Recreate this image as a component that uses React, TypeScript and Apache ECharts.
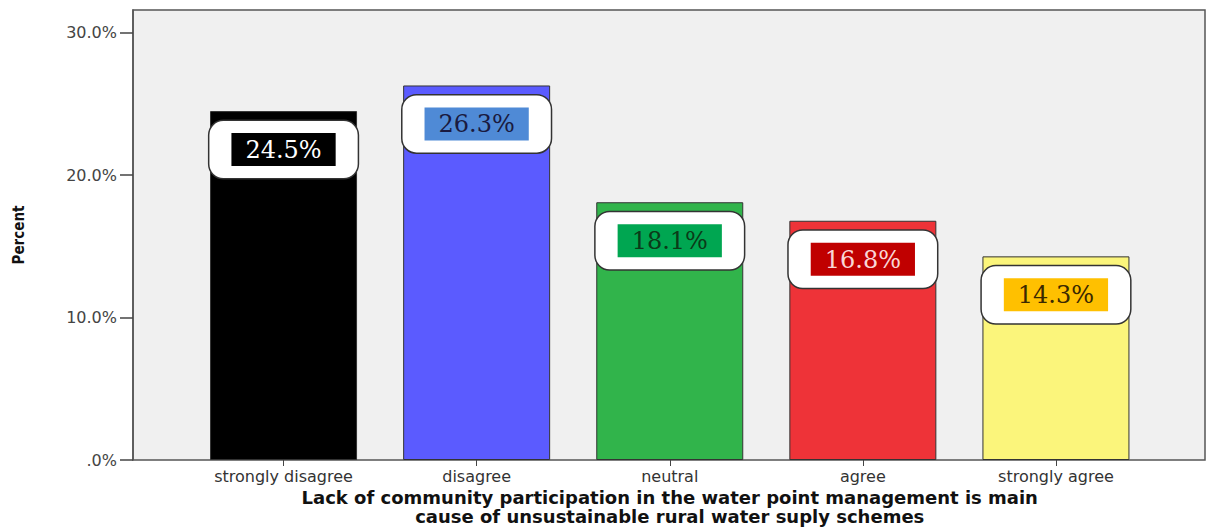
import React, { useEffect, useRef } from "react";
import * as echarts from "echarts";

const categories = ["strongly disagree", "disagree", "neutral", "agree", "strongly agree"];
const percents = [24.5, 26.3, 18.1, 16.8, 14.3];
const yTicks = [0, 10, 20, 30];
const yMax = 31.6;

const barColors = ["#000000", "#5b5bff", "#31b44b", "#ee3338", "#fbf57b"];
const tagBg = ["#000000", "#4f8ad6", "#00a651", "#c00000", "#ffc000"];
const tagText = ["#ffffff", "#1a1a40", "#0b3a18", "#f9d6d6", "#3a2800"];

export default function App() {
  const ref = useRef<HTMLDivElement>(null);
  useEffect(() => {
    if (!ref.current) return;
    const chart = echarts.init(ref.current, null, { renderer: "svg" });
    const option = {
      animation: false,
      backgroundColor: "#ffffff",
      grid: [
        { left: 187, right: 56.5, top: 10, bottom: 67, show: false, outerBoundsMode: "none", containLabel: false },
        {
          left: 133,
          right: 4,
          top: 10,
          bottom: 67,
          show: true,
          outerBoundsMode: "none",
          containLabel: false,
          backgroundColor: "#f0f0f0",
          borderColor: "#555555",
          borderWidth: 1.5,
        },
      ],
      xAxis: [
        {
          type: "category",
          gridIndex: 0,
          data: categories,
          axisLine: { show: false },
          axisTick: { show: true, alignWithLabel: true, length: 6, lineStyle: { color: "#444444" } },
          axisLabel: {
            color: "#333333",
            fontFamily: "DejaVu Sans",
            fontSize: 16,
            margin: 8,
          },
          name: "Lack of community participation in the water point management is main\ncause of unsustainable rural water suply schemes",
          nameLocation: "middle",
          nameGap: 28,
          nameMoveOverlap: false,
          nameTextStyle: {
            color: "#111111",
            fontFamily: "DejaVu Sans",
            fontWeight: "bold",
            fontSize: 18,
            lineHeight: 19,
          },
        },
        {
          type: "value",
          gridIndex: 1,
          show: false,
          min: 0,
          max: 1,
        },
      ],
      yAxis: [
        {
          type: "value",
          gridIndex: 0,
          min: 0,
          max: yMax,
          show: false,
        },
        {
          type: "value",
          gridIndex: 1,
          min: 0,
          max: yMax,
          interval: 10,
          splitLine: { show: false },
          axisLine: { show: true, lineStyle: { color: "#555555", width: 1.5 } },
          axisTick: { show: true, length: 13, customValues: yTicks, lineStyle: { color: "#444444", width: 1.5 } },
          axisLabel: {
            customValues: yTicks,
            color: "#444444",
            fontFamily: "DejaVu Sans",
            fontSize: 16,
            margin: 16,
            formatter: (v: number) => (v === 0 ? ".0%" : v.toFixed(1) + "%"),
          },
          name: "Percent",
          nameLocation: "middle",
          nameGap: 107,
          nameRotate: 90,
          nameTextStyle: {
            color: "#111111",
            fontFamily: "DejaVu Sans Condensed",
            fontWeight: "bold",
            fontSize: 15,
          },
        },
      ],
      series: [
        {
          type: "bar",
          xAxisIndex: 0,
          yAxisIndex: 0,
          barWidth: 147,
          itemStyle: { borderColor: "#333333", borderWidth: 1 },
          data: percents.map((v, i) => ({
            value: v,
            itemStyle: { color: barColors[i] },
            label: {
              show: true,
              position: "insideTop",
              distance: 10,
              formatter: "{v|" + v.toFixed(1) + "%}",
              backgroundColor: "#ffffff",
              borderColor: "#333333",
              borderWidth: 1.5,
              borderRadius: 14,
              padding: [12, 22],
              rich: {
                v: {
                  backgroundColor: tagBg[i],
                  color: tagText[i],
                  fontFamily: "DejaVu Serif",
                  fontSize: 24,
                  padding: [5, 14, 4, 14],
                },
              },
            },
          })),
        },
      ],
    };
    chart.setOption(option as any);
    return () => chart.dispose();
  }, []);
  return (
    <div
      ref={ref}
      style={{ position: "fixed", left: 0, top: 0, width: 1209, height: 527 }}
    />
  );
}
